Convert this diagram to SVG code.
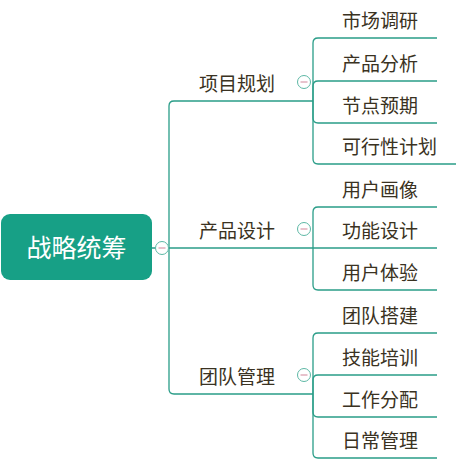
<svg xmlns="http://www.w3.org/2000/svg" width="476" height="472" viewBox="0 0 476 472">
<style>
.ln{fill:none;stroke:#2a9d88;stroke-width:1.3}
.t{font-family:"Microsoft YaHei","Noto Sans CJK SC",sans-serif;font-size:19px;fill:#3a3222}
.root{font-family:"Microsoft YaHei","Noto Sans CJK SC",sans-serif;font-size:25px;fill:#ffffff}
.cc{fill:#ffffff;stroke:#5db8a5;stroke-width:1}
.cm{stroke:#d99aab;stroke-width:1.2}
</style>
<rect width="476" height="472" fill="#ffffff"/>
<g id="connectors">
<path class="ln" d="M152,248 H313"/>
<path class="ln" d="M169,248 V106 Q169,101 174,101 H313"/>
<path class="ln" d="M169,248 V389 Q169,394 174,394 H313"/>
<path class="ln" d="M313,101 V43 Q313,38 318,38 H437"/>
<path class="ln" d="M313,101 V86 Q313,81 318,81 H437"/>
<path class="ln" d="M313,101 V118 Q313,123 318,123 H437"/>
<path class="ln" d="M313,101 V159 Q313,164 318,164 H456"/>
<path class="ln" d="M313,248 V212 Q313,207 318,207 H437"/>
<path class="ln" d="M313,248 H437"/>
<path class="ln" d="M313,248 V285 Q313,290 318,290 H437"/>
<path class="ln" d="M313,394 V338 Q313,333 318,333 H437"/>
<path class="ln" d="M313,394 V380 Q313,375 318,375 H437"/>
<path class="ln" d="M313,394 V412 Q313,417 318,417 H437"/>
<path class="ln" d="M313,394 V453 Q313,458 318,458 H437"/>
</g>
<g id="root">
<rect x="1" y="214" width="151" height="66" rx="9" fill="#17a086"/>
<text class="root" x="76.5" y="257" text-anchor="middle">战略统筹</text>
<circle class="cc" cx="162" cy="248" r="6.5"/>
<line class="cm" x1="158.5" y1="248" x2="165.5" y2="248"/>
</g>
<g id="b1">
<text class="t" x="199" y="91">项目规划</text>
<circle class="cc" cx="304" cy="82" r="6.5"/>
<line class="cm" x1="300.5" y1="82" x2="307.5" y2="82"/>
</g>
<g id="b2">
<text class="t" x="199" y="238">产品设计</text>
<circle class="cc" cx="304" cy="229" r="6.5"/>
<line class="cm" x1="300.5" y1="229" x2="307.5" y2="229"/>
</g>
<g id="b3">
<text class="t" x="199" y="384">团队管理</text>
<circle class="cc" cx="304" cy="375" r="6.5"/>
<line class="cm" x1="300.5" y1="375" x2="307.5" y2="375"/>
</g>
<g id="c1"><text class="t" x="342" y="28">市场调研</text></g>
<g id="c2"><text class="t" x="342" y="71">产品分析</text></g>
<g id="c3"><text class="t" x="342" y="113">节点预期</text></g>
<g id="c4"><text class="t" x="342" y="154">可行性计划</text></g>
<g id="c5"><text class="t" x="342" y="197">用户画像</text></g>
<g id="c6"><text class="t" x="342" y="238">功能设计</text></g>
<g id="c7"><text class="t" x="342" y="280">用户体验</text></g>
<g id="c8"><text class="t" x="342" y="323">团队搭建</text></g>
<g id="c9"><text class="t" x="342" y="365">技能培训</text></g>
<g id="c10"><text class="t" x="342" y="407">工作分配</text></g>
<g id="c11"><text class="t" x="342" y="448">日常管理</text></g>
</svg>
